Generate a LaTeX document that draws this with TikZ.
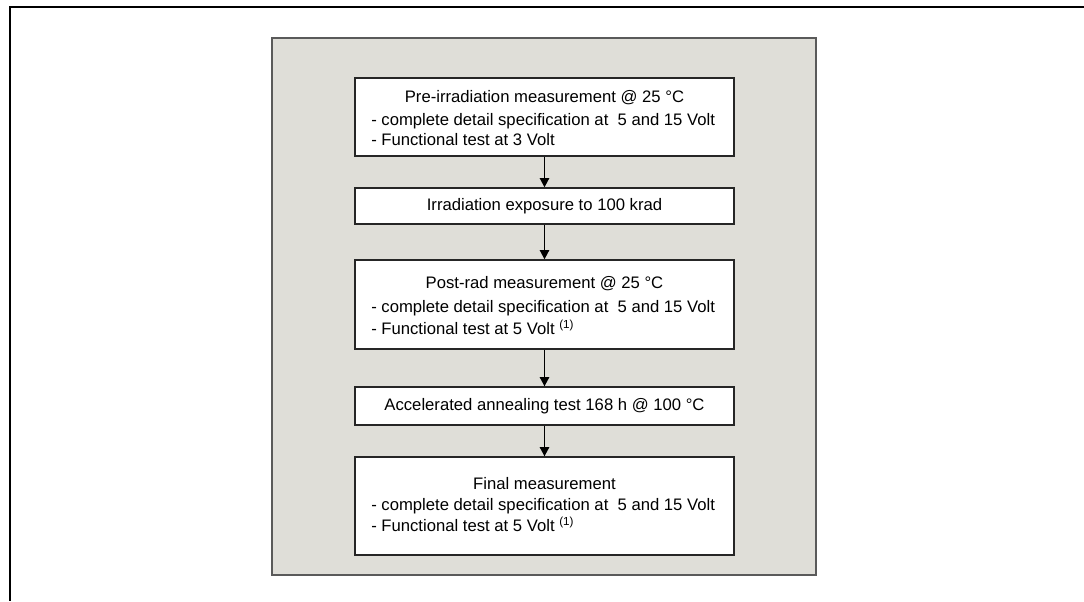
\documentclass[tikz,border=0pt]{standalone}
\usepackage{fontspec}
\setmainfont{Liberation Sans}
\usetikzlibrary{arrows.meta}
\definecolor{panelgray}{RGB}{223,222,216}
\definecolor{paneledge}{RGB}{90,90,90}
\begin{document}
\begin{tikzpicture}[x=0.75pt,y=-0.75pt,
  framebox/.style={draw=black,line width=2.2pt},
  panel/.style={fill=panelgray,draw=paneledge,line width=1.6pt},
  stepbox/.style={draw=black!85,fill=white,line width=1pt,inner sep=0pt,minimum width=379*0.75pt},
  txt/.style={inner sep=0pt,font=\fontsize{12.5}{14}\selectfont},
  flow/.style={draw=black,line width=1.4pt,-{Triangle[width=7pt,length=7pt]}}]
\useasboundingbox (0,0) rectangle (1084,601);
% outer frame
\coordinate (ftl) at (10,7);
\coordinate (ftr) at (1084,7);
\coordinate (fbl) at (10,601);
\draw[framebox] (ftr) -- (ftl) -- (fbl);
% panel
\path[panel] (272,38) rectangle (816,575);
% boxes
\node[stepbox,minimum height=78*0.75pt] (b1) at (544.5,117) {};
\node[stepbox,minimum height=36*0.75pt] (b2) at (544.5,206) {};
\node[stepbox,minimum height=89*0.75pt] (b3) at (544.5,304.5) {};
\node[stepbox,minimum height=38*0.75pt] (b4) at (544.5,406) {};
\node[stepbox,minimum height=98*0.75pt] (b5) at (544.5,506) {};
% texts
\node[txt] (t1a) at (544.5,98) {Pre-irradiation measurement @ 25 °C};
\node[txt,anchor=west] (t1b) at (371,121) {- complete detail specification at \ 5 and 15 Volt};
\node[txt,anchor=west] (t1c) at (371,140) {- Functional test at 3 Volt};
\node[txt] (t2) at (544.5,206) {Irradiation exposure to 100 krad};
\node[txt] (t3a) at (544.5,284) {Post-rad measurement @ 25 °C};
\node[txt,anchor=west] (t3b) at (371,308) {- complete detail specification at \ 5 and 15 Volt};
\node[txt,anchor=west] (t3c) at (371,327) {- Functional test at 5 Volt \textsuperscript{(1)}};
\node[txt] (t4) at (544.5,406) {Accelerated annealing test 168 h @ 100 °C};
\node[txt] (t5a) at (544.5,484) {Final measurement};
\node[txt,anchor=west] (t5b) at (371,506) {- complete detail specification at \ 5 and 15 Volt};
\node[txt,anchor=west] (t5c) at (371,524) {- Functional test at 5 Volt \textsuperscript{(1)}};
% arrows
\draw[flow] (b1.south) -- (b2.north);
\draw[flow] (b2.south) -- (b3.north);
\draw[flow] (b3.south) -- (b4.north);
\draw[flow] (b4.south) -- (b5.north);
\end{tikzpicture}
\end{document}
